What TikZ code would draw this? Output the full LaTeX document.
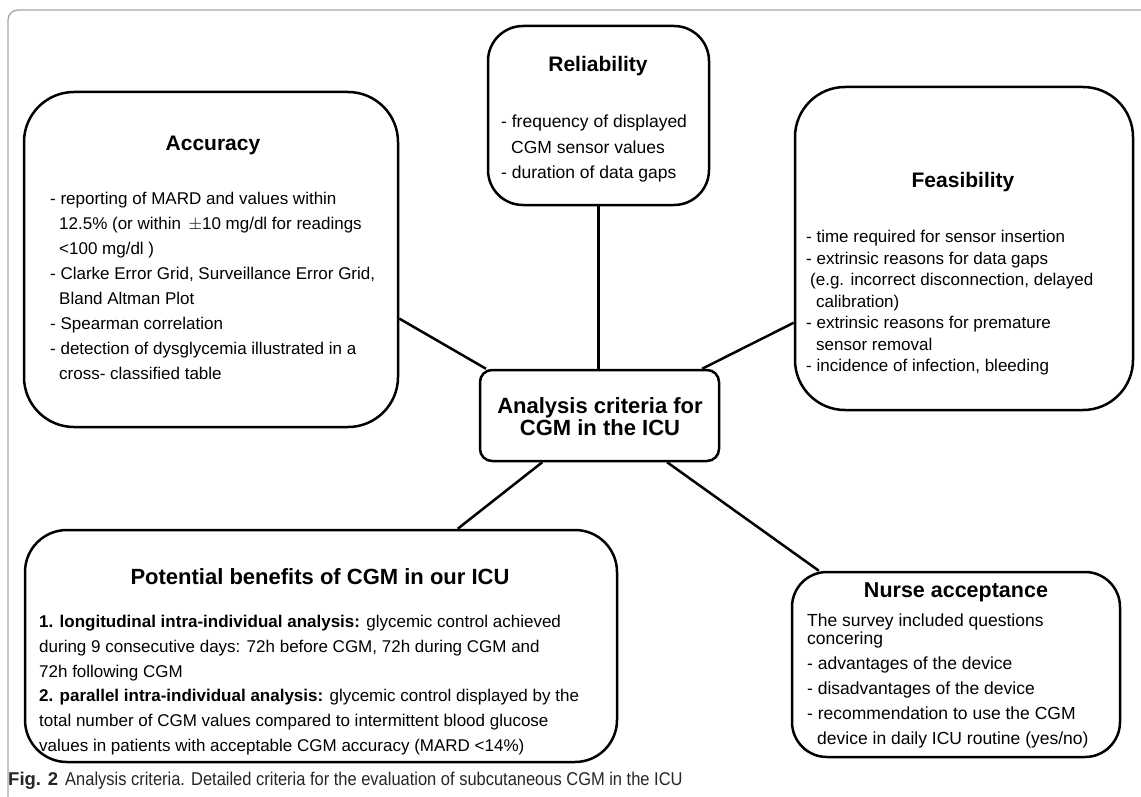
\documentclass[tikz,border=0pt]{standalone}
\usepackage{fontspec}
\usepackage{graphicx}
\setmainfont{Liberation Sans}
\usetikzlibrary{calc}
\begin{document}
\begin{tikzpicture}[x=1pt,y=-1pt,
  box/.style={draw, line width=2.5pt, rounded corners=#1, inner sep=0pt, fill=white},
  conn/.style={line width=2.5pt},
  ttl/.style={inner sep=0pt, font=\bfseries\fontsize{21}{21}\selectfont},
  body/.style={inner sep=0pt, anchor=north west, align=left},
  frame/.style={draw=black!35, line width=1.3pt, rounded corners=10pt}
]
\useasboundingbox (0,0) rectangle (1141,797);
\fill[white] (0,0) rectangle (1141,797);
\draw[frame] (8,797) -- (8,10) -- (1141,10);

% boxes
\node[box=50pt, minimum width=374pt, minimum height=335pt] (acc) at (211,259.5) {};
\node[box=35pt, minimum width=221pt, minimum height=179pt] (rel) at (598.5,115.5) {};
\node[box=50pt, minimum width=338pt, minimum height=323pt] (fea) at (964,248.5) {};
\node[box=12pt, minimum width=239pt, minimum height=91pt] (ctr) at (599.5,415.5) {};
\node[box=42pt, minimum width=592pt, minimum height=232pt] (ben) at (321,646) {};
\node[box=35pt, minimum width=328pt, minimum height=185pt] (nur) at (956,664.5) {};

% connectors
\draw[conn] ($(acc.north east)!0.675!(acc.south east)$) -- ($(ctr.north west)!0.03!(ctr.north east)$);
\draw[conn] (rel.south) -- (rel.south |- ctr.north);
\draw[conn] ($(ctr.north west)!0.925!(ctr.north east)$) -- ($(fea.north west)!0.728!(fea.south west)$);
\draw[conn] ($(ctr.south west)!0.263!(ctr.south east)$) -- ($(ben.north west)!0.73!(ben.north east)$);
\draw[conn] ($(ctr.south west)!0.78!(ctr.south east)$) -- ($(nur.north west)!0.085!(nur.north east)$);

% Accuracy
\node[ttl] (acct) at (213,145) {Accuracy};
\node[body, font=\fontsize{17}{25}\selectfont] (accb) at (50,192) {%
- reporting of MARD and values within\\
\hspace*{9pt}12.5\% (or within \,$\pm$10 mg/dl for readings\\
\hspace*{9pt}<100 mg/dl )\\
- Clarke Error Grid, Surveillance Error Grid,\\
\hspace*{9pt}Bland Altman Plot\\
- Spearman correlation\\
- detection of dysglycemia illustrated in a\\
\hspace*{9pt}cross- classified table};

% Reliability
\node[ttl] (relt) at (598,66) {Reliability};
\node[body, font=\fontsize{17.5}{25.5}\selectfont] (relb) at (501,115) {%
- frequency of displayed\\
\hspace*{10pt}CGM sensor values\\
- duration of data gaps};

% Feasibility
\node[ttl] (feat) at (963,182) {Feasibility};
\node[body, font=\fontsize{17}{21.5}\selectfont] (feab) at (806,230) {%
- time required for sensor insertion\\
- extrinsic reasons for data gaps\\
\hspace*{4pt}(e.g. incorrect disconnection, delayed\\
\hspace*{10pt}calibration)\\
- extrinsic reasons for premature\\
\hspace*{10pt}sensor removal\\
- incidence of infection, bleeding};

% Center
\node[inner sep=0pt, align=center, font=\bfseries\fontsize{22}{22}\selectfont] (ctrt) at (600,417) {Analysis criteria for\\CGM in the ICU};

% Benefits
\node[inner sep=0pt, font=\bfseries\fontsize{22}{22}\selectfont] (bent) at (320,577) {Potential benefits of CGM in our ICU};
\node[body, font=\fontsize{17}{24.8}\selectfont] (benb) at (39,615) {%
\textbf{1. longitudinal intra-individual analysis:} glycemic control achieved\\
during 9 consecutive days: 72h before CGM, 72h during CGM and\\
72h following CGM\\
\textbf{2. parallel intra-individual analysis:} glycemic control displayed by the\\
total number of CGM values compared to intermittent blood glucose\\
values in patients with acceptable CGM accuracy (MARD <14\%)};

% Nurse acceptance
\node[inner sep=0pt, font=\bfseries\fontsize{21.5}{21.5}\selectfont] (nurt) at (956,592) {Nurse acceptance};
\node[body, font=\fontsize{17.5}{25}\selectfont] (nurb) at (807,614) {%
The survey included questions\\[-7pt]
concering\\
- advantages of the device\\
- disadvantages of the device\\
- recommendation to use the CGM\\
\hspace*{10pt}device in daily ICU routine (yes/no)};

% caption
\node[anchor=west, inner sep=0pt, font=\fontsize{18.5}{18.5}\selectfont, text=black!85] (cap) at (8,781) {\textbf{Fig. 2}\hspace{7pt}\scalebox{0.89}[1]{Analysis criteria. Detailed criteria for the evaluation of subcutaneous CGM in the ICU}};
\end{tikzpicture}
\end{document}
